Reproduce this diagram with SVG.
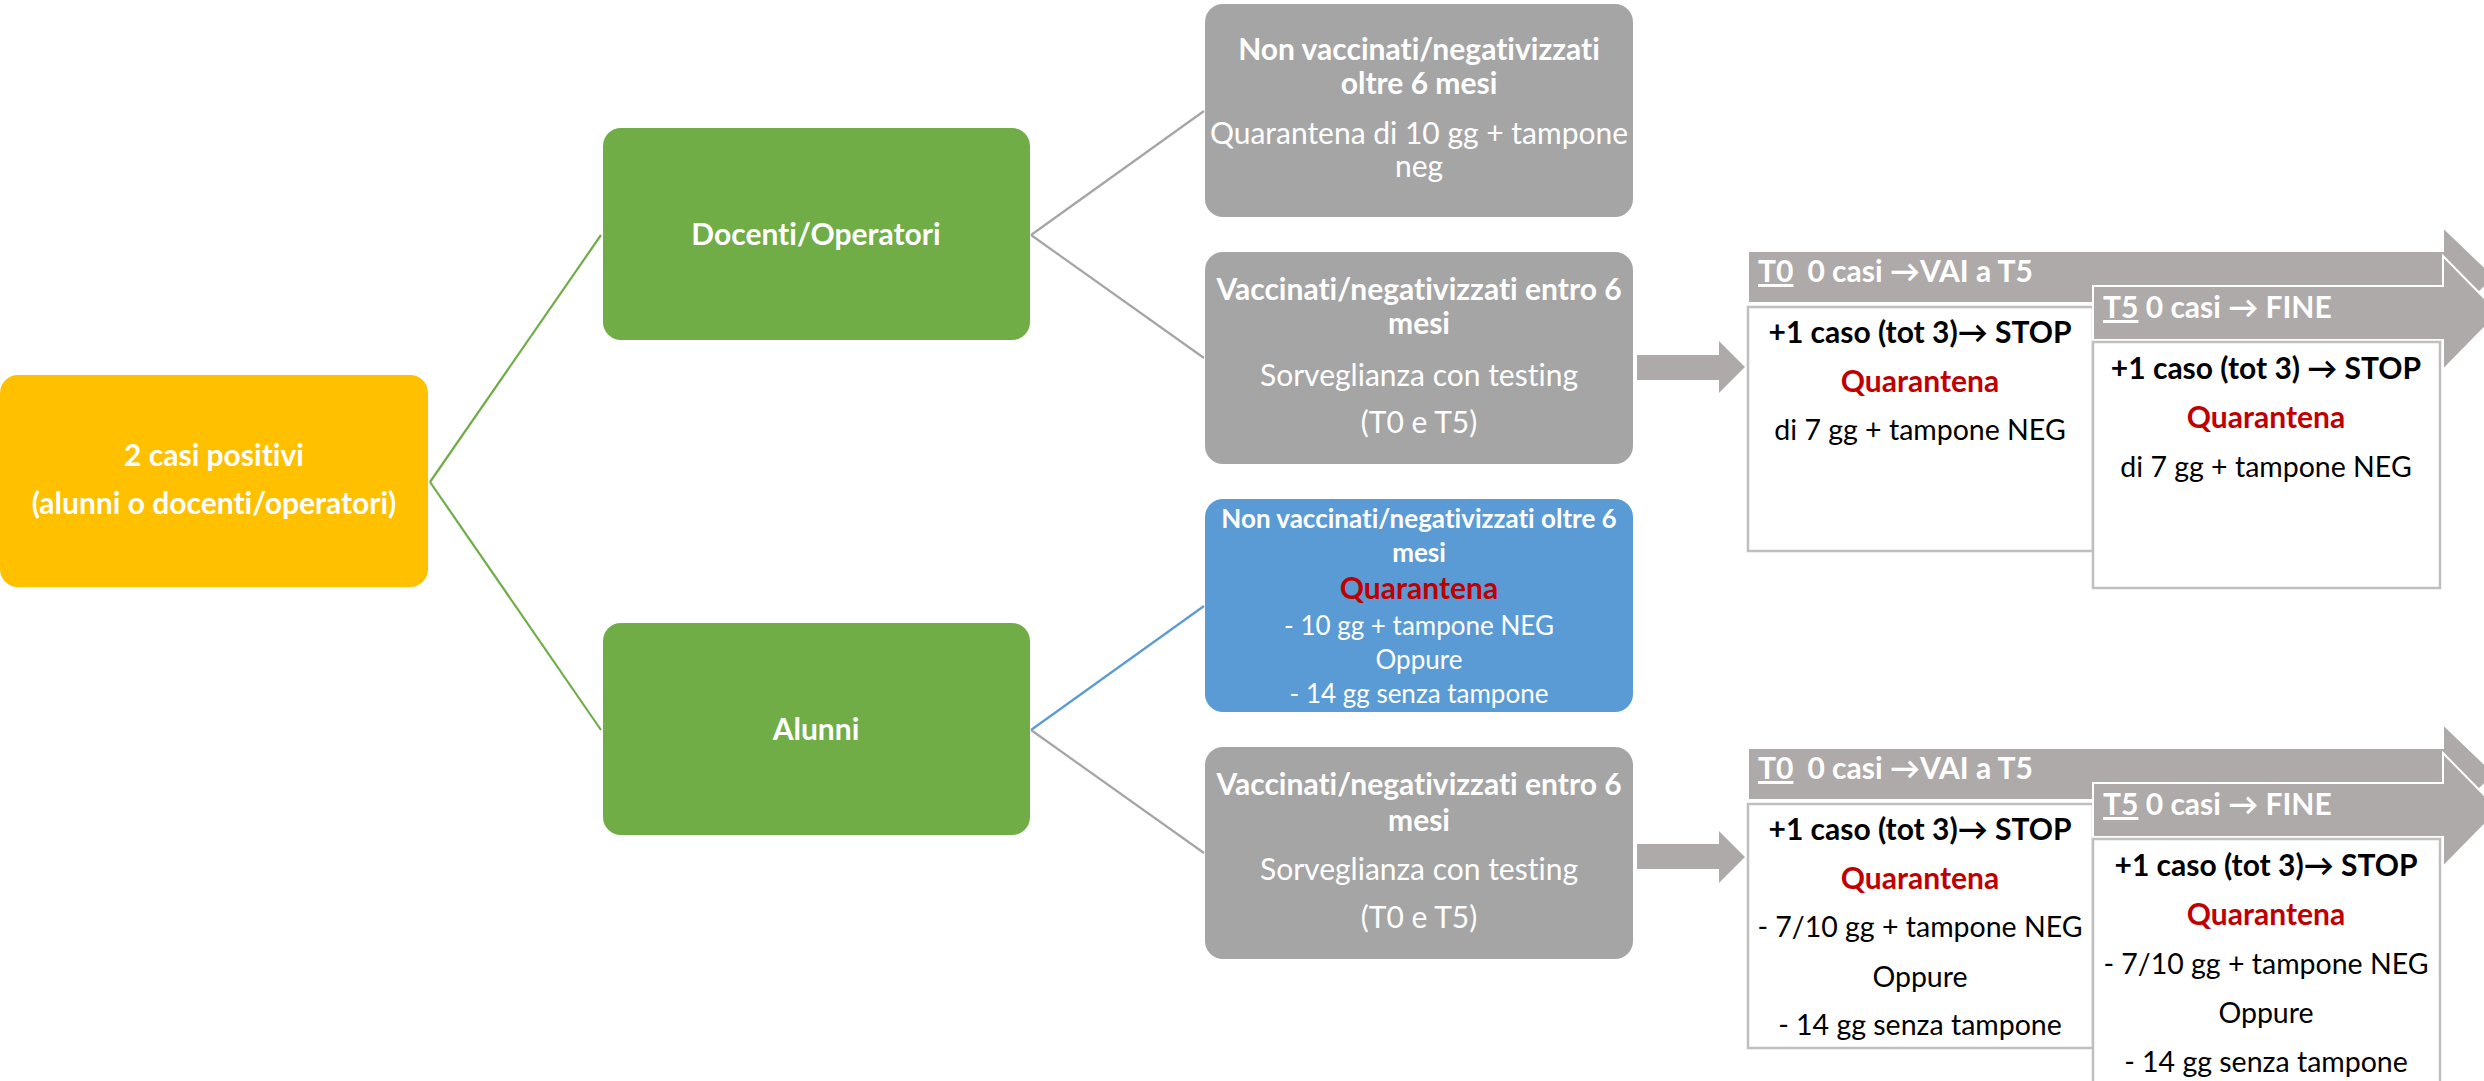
<svg xmlns="http://www.w3.org/2000/svg" width="2484" height="1081" viewBox="0 0 2484 1081">
<style>
text{font-family:Lato,"Open Sans","DejaVu Sans",sans-serif;font-size:30px;text-anchor:middle;font-variant-ligatures:none}
.b{font-weight:700}
.w{fill:#ffffff}
.k{fill:#000000}
.r{fill:#C00000}
.sm{font-size:26px}
.tx{font-size:28.5px}
.l{text-anchor:start}
.u{text-decoration:underline}
.arr{fill:#AEAAAA;stroke:#ffffff;stroke-width:2}
.sarr{fill:#AEAAAA;stroke:none}
.tb{fill:#ffffff;stroke:#BFBFBF;stroke-width:2.5}
.cg{stroke:#70AD47;stroke-width:2.2;fill:none}
.cy{stroke:#A5A5A5;stroke-width:2.2;fill:none}
.cb{stroke:#5B9BD5;stroke-width:2.2;fill:none}
</style>
<rect width="2484" height="1081" fill="#ffffff"/>
<g id="connectors">
<path class="cg" d="M430,482 L601,235"/>
<path class="cg" d="M430,482 L601,730"/>
<path class="cy" d="M1031,235 L1204,111"/>
<path class="cy" d="M1031,235 L1204,358"/>
<path class="cb" d="M1031,730 L1204,606"/>
<path class="cy" d="M1031,730 L1204,853"/>
<polygon class="sarr" points="1637,355 1719,355 1719,341 1745,367 1719,393 1719,380 1637,380"/>
<polygon class="sarr" points="1637,844 1719,844 1719,831 1745,857 1719,883 1719,869 1637,869"/>
</g>
<g id="root">
<rect x="0" y="375" width="428" height="212" rx="18" fill="#FFC000"/>
<text class="b w" x="214" y="466">2 casi positivi</text>
<text class="b w" x="214" y="514">(alunni o docenti/operatori)</text>
</g>
<g id="docenti">
<rect x="603" y="128" width="427" height="212" rx="18" fill="#70AD47"/>
<text class="b w" x="816" y="245">Docenti/Operatori</text>
</g>
<g id="alunni">
<rect x="603" y="623" width="427" height="212" rx="18" fill="#70AD47"/>
<text class="b w" x="816" y="740">Alunni</text>
</g>
<g id="doc-nonvacc">
<rect x="1205" y="4" width="428" height="213" rx="18" fill="#A5A5A5"/>
<text class="b w" x="1419" y="60">Non vaccinati/negativizzati</text>
<text class="b w" x="1419" y="94">oltre 6 mesi</text>
<text class="w" x="1419" y="144">Quarantena di 10 gg + tampone</text>
<text class="w" x="1419" y="177">neg</text>
</g>
<g id="doc-vacc">
<rect x="1205" y="252" width="428" height="212" rx="18" fill="#A5A5A5"/>
<text class="b w" x="1419" y="300">Vaccinati/negativizzati entro 6</text>
<text class="b w" x="1419" y="334">mesi</text>
<text class="w" x="1419" y="386">Sorveglianza con testing</text>
<text class="w" x="1419" y="433">(T0 e T5)</text>
</g>
<g id="alu-nonvacc">
<rect x="1205" y="499" width="428" height="213" rx="18" fill="#5B9BD5"/>
<text class="b w sm" x="1419" y="528">Non vaccinati/negativizzati oltre 6</text>
<text class="b w sm" x="1419" y="562">mesi</text>
<text class="b r" x="1419" y="599">Quarantena</text>
<text class="w sm" x="1419" y="635">- 10 gg + tampone NEG</text>
<text class="w sm" x="1419" y="669">Oppure</text>
<text class="w sm" x="1419" y="703">- 14 gg senza tampone</text>
</g>
<g id="alu-vacc">
<rect x="1205" y="747" width="428" height="212" rx="18" fill="#A5A5A5"/>
<text class="b w" x="1419" y="795">Vaccinati/negativizzati entro 6</text>
<text class="b w" x="1419" y="831">mesi</text>
<text class="w" x="1419" y="880">Sorveglianza con testing</text>
<text class="w" x="1419" y="928">(T0 e T5)</text>
</g>
<g id="doc-t0">
<polygon class="arr" points="1748,251 2443,251 2443,227 2495,277 2443,327 2443,303 1748,303"/>
<text class="b w l" x="1758" y="282"><tspan class="u">T0</tspan><tspan dx="14">0 casi →VAI a T5</tspan></text>
<rect class="tb" x="1748" y="307" width="345" height="244"/>
<text class="b k" x="1920" y="343">+1 caso (tot 3)→ STOP</text>
<text class="b r" x="1920" y="392">Quarantena</text>
<text class="k tx" x="1920" y="440">di 7 gg + tampone NEG</text>
</g>
<g id="doc-t5">
<polygon class="arr" points="2093,286 2443,286 2443,256 2499,313 2443,370 2443,340 2093,340"/>
<text class="b w l" x="2103" y="318"><tspan class="u">T5</tspan> 0 casi → FINE</text>
<rect class="tb" x="2093" y="342" width="347" height="246"/>
<text class="b k" x="2266" y="379">+1 caso (tot 3) → STOP</text>
<text class="b r" x="2266" y="428">Quarantena</text>
<text class="k tx" x="2266" y="477">di 7 gg + tampone NEG</text>
</g>
<g id="alu-t0">
<polygon class="arr" points="1748,748 2443,748 2443,724 2495,774 2443,824 2443,800 1748,800"/>
<text class="b w l" x="1758" y="779"><tspan class="u">T0</tspan><tspan dx="14">0 casi →VAI a T5</tspan></text>
<rect class="tb" x="1748" y="804" width="345" height="244"/>
<text class="b k" x="1920" y="840">+1 caso (tot 3)→ STOP</text>
<text class="b r" x="1920" y="889">Quarantena</text>
<text class="k tx" x="1920" y="937">- 7/10 gg + tampone NEG</text>
<text class="k tx" x="1920" y="987">Oppure</text>
<text class="k tx" x="1920" y="1035">- 14 gg senza tampone</text>
</g>
<g id="alu-t5">
<polygon class="arr" points="2093,783 2443,783 2443,753 2499,810 2443,867 2443,837 2093,837"/>
<text class="b w l" x="2103" y="815"><tspan class="u">T5</tspan> 0 casi → FINE</text>
<rect class="tb" x="2093" y="839" width="347" height="260"/>
<text class="b k" x="2266" y="876">+1 caso (tot 3)→ STOP</text>
<text class="b r" x="2266" y="925">Quarantena</text>
<text class="k tx" x="2266" y="974">- 7/10 gg + tampone NEG</text>
<text class="k tx" x="2266" y="1023">Oppure</text>
<text class="k tx" x="2266" y="1072">- 14 gg senza tampone</text>
</g>
</svg>
